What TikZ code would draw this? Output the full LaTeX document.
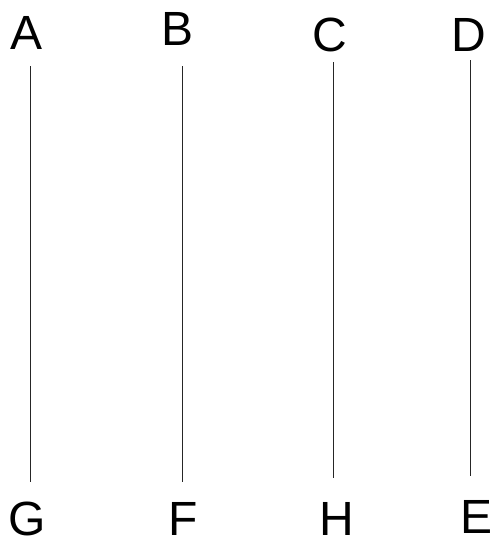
\documentclass[tikz,border=0pt]{standalone}
\usepackage{fontspec}
\setmainfont{Liberation Sans}
\usetikzlibrary{positioning}

\tikzset{
  letter/.style={anchor=base, inner sep=0pt, font=\fontsize{48}{48}\selectfont},
  strand/.style={line width=0.9pt, black!85}
}

\begin{document}
\begin{tikzpicture}[x=1pt, y=-1pt]
  \useasboundingbox (0,0) rectangle (493,541);
  % top labels
  \node[letter] (labA) at (27,49) {A};
  \node[letter] (labB) at (178,45) {B};
  \node[letter] (labC) at (330,51) {C};
  \node[letter] (labD) at (469,51) {D};
  % bottom labels
  \node[letter] (labG) at (27,535) {G};
  \node[letter] (labF) at (183,535) {F};
  \node[letter] (labH) at (337,535) {H};
  \node[letter] (labE) at (477,533) {E};
  % line ends
  \coordinate (topA) at (30,66);  \coordinate (botA) at (30,482);
  \coordinate (topB) at (182,66); \coordinate (botB) at (182,482);
  \coordinate (topC) at (333,62); \coordinate (botC) at (333,478);
  \coordinate (topD) at (470,60); \coordinate (botD) at (470,476);
  % lines
  \foreach \k in {A,B,C,D}
    \draw[strand] (top\k) -- (bot\k);
\end{tikzpicture}
\end{document}
